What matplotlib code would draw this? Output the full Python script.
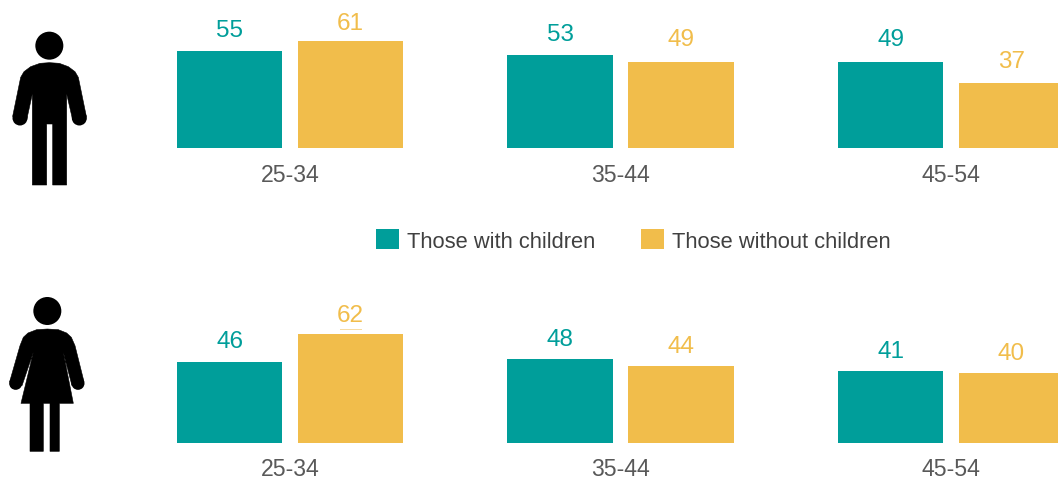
import numpy as np
import matplotlib
matplotlib.use("Agg")
import matplotlib.pyplot as plt
from matplotlib.patches import Polygon, Circle, Rectangle

plt.rcParams['font.family'] = ['Liberation Sans', 'DejaVu Sans']

age_groups = ['25-34', '35-44', '45-54']
men_with = [55, 53, 49]
men_without = [61, 49, 37]
women_with = [46, 48, 41]
women_without = [62, 44, 40]
legend_labels = ['Those with children', 'Those without children']

TEAL = '#009E9A'
GOLD = '#F1BD4B'
W, H = 1058, 481

# icon outlines, in zoomed pixels
MAN = [(120, 133), (148, 131), (178, 133), (205, 143), (225, 158), (235, 175), (259, 292),
       (218, 303), (200, 225), (200, 498), (158, 498), (158, 315), (140, 315), (140, 498),
       (97, 498), (97, 225), (80, 303), (38, 292), (62, 175), (72, 158), (92, 143)]
WOMAN = [(110, 122), (142, 120), (175, 122), (200, 132), (214, 145), (225, 170), (252, 278),
         (216, 290), (190, 190), (220, 343), (178, 343), (178, 487), (150, 487), (150, 343),
         (130, 343), (130, 487), (90, 487), (90, 343), (63, 343), (100, 190), (66, 290),
         (29, 278), (60, 170), (70, 145), (84, 132)]

fig = plt.figure(figsize=(W / 100, H / 100), dpi=100)


def draw_row(baseline, top, with_vals, without_vals, with_gap, without_gap, tick_pad):
    # one unit on y is 1.75 px, one group is 330.5 px
    ax = fig.add_axes([0, 1 - baseline / H, 1, (baseline - top) / H])
    x = np.arange(len(age_groups))
    ax.bar(x - 0.183, with_vals, 0.318, color=TEAL, label=legend_labels[0])
    ax.bar(x + 0.183, without_vals, 0.318, color=GOLD, label=legend_labels[1])
    ax.set_xlim(-290 / 330.5, 768 / 330.5)
    ax.set_ylim(0, (baseline - top) / 1.75)
    ax.set_xticks(x, age_groups)
    ax.tick_params(axis='x', length=0, pad=tick_pad, labelsize=16.6, labelcolor='#595959')
    ax.set_yticks([])
    for s in ax.spines.values():
        s.set_visible(False)
    ax.patch.set_alpha(0)
    for i in x:
        ax.annotate(str(with_vals[i]), (i - 0.183, with_vals[i]), xytext=(0, with_gap[i]), textcoords='offset points',
                    ha='center', va='bottom', fontsize=17.5, color=TEAL)
        ax.annotate(str(without_vals[i]), (i + 0.183, without_vals[i]), xytext=(0, without_gap[i]), textcoords='offset points',
                    ha='center', va='bottom', fontsize=17.5, color=GOLD)
    return ax


ax_top = draw_row(148.5, 0, men_with, men_without, [7.6, 6.9, 8.3], [5.1, 8.3, 7.6], 11.5)
ax_bottom = draw_row(443.5, 300, women_with, women_without, [6.9, 6.2, 6.2], [5.5, 6.2, 6.2], 10.5)

handles, labels = ax_top.get_legend_handles_labels()
fig.legend(handles, labels, loc='center', bbox_to_anchor=(633.5 / W, 1 - 241.5 / H), ncol=2, frameon=False,
           fontsize=15.72, labelcolor='#404040', borderpad=0, handlelength=1.06, handleheight=1,
           handletextpad=0.36, columnspacing=2.1)

# icons, in pixel coordinates of the picture
over = fig.add_axes([0, 0, 1, 1])
over.set_xlim(0, W)
over.set_ylim(H, 0)
over.axis('off')
over.patch.set_alpha(0)


def icon(points, head, hands, hand_r, y0):
    pts = [(px / 3, y0 + py / 3) for px, py in points]
    over.add_patch(Polygon(pts, closed=True, fc='black', ec='black', lw=0.4, joinstyle='round'))
    over.add_patch(Circle((head[0] / 3, y0 + head[1] / 3), 14, fc='black', ec='none'))
    for hx, hy in hands:
        over.add_patch(Circle((hx / 3, y0 + hy / 3), hand_r, fc='black', ec='none'))


icon(MAN, (148, 80), [(60, 297), (238, 297)], 7.5, 20)
icon(WOMAN, (142, 66), [(47, 283), (234, 283)], 6.5, 290)

# leftover sliver above the 62 bar
over.add_patch(Rectangle((340, 329.5), 22, 1.5, fc='#F7DCA3', ec='none'))

fig.savefig('out.png', dpi=100)
